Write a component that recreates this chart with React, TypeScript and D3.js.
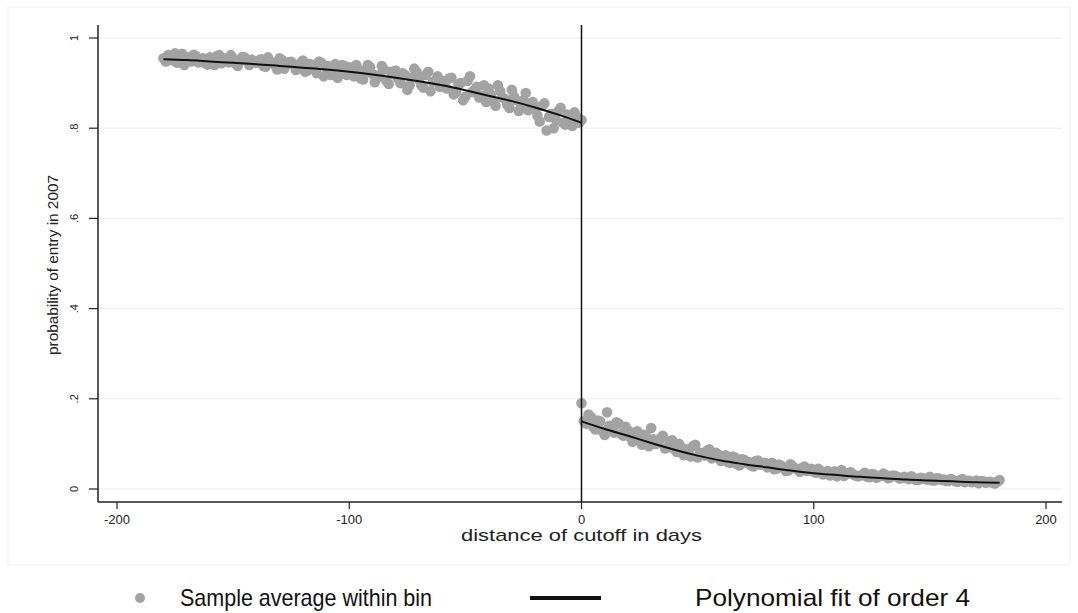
import React from 'react';
import * as d3 from 'd3';

const W = 1078;
const H = 613;

// daily bins: even days and odd days kept in separate lists
const leftDaysEven = d3.range(-180, 1, 2);
const leftValuesEven = [
  0.955, 0.962, 0.95, 0.945, 0.965, 0.958, 0.948, 0.96, 0.952, 0.944,
  0.957, 0.94, 0.962, 0.95, 0.946, 0.955, 0.938, 0.958, 0.949, 0.952,
  0.945, 0.953, 0.936, 0.948, 0.94, 0.955, 0.932, 0.946, 0.942, 0.938,
  0.95, 0.928, 0.94, 0.922, 0.945, 0.935, 0.918, 0.942, 0.93, 0.938,
  0.935, 0.915, 0.93, 0.908, 0.94, 0.92, 0.912, 0.938, 0.905, 0.925,
  0.928, 0.9, 0.918, 0.895, 0.932, 0.908, 0.89, 0.925, 0.903, 0.915,
  0.905, 0.888, 0.912, 0.88, 0.9, 0.87, 0.915, 0.885, 0.868, 0.895,
  0.888, 0.86, 0.895, 0.868, 0.852, 0.885, 0.862, 0.848, 0.878, 0.855,
  0.842, 0.815, 0.855, 0.825, 0.8, 0.838, 0.812, 0.83, 0.805, 0.825,
  0.818,
];
const leftDaysOdd = d3.range(-179, 0, 2);
const leftValuesOdd = [
  0.948, 0.958, 0.966, 0.952, 0.94, 0.956, 0.963, 0.946, 0.955, 0.941,
  0.952, 0.96, 0.944, 0.955, 0.962, 0.943, 0.95, 0.957, 0.94, 0.948,
  0.95, 0.938, 0.957, 0.944, 0.93, 0.951, 0.94, 0.947, 0.929, 0.944,
  0.925, 0.943, 0.933, 0.948, 0.915, 0.938, 0.926, 0.912, 0.94, 0.918,
  0.928, 0.94, 0.91, 0.925, 0.935, 0.902, 0.918, 0.93, 0.898, 0.92,
  0.91, 0.922, 0.885, 0.912, 0.925, 0.895, 0.918, 0.882, 0.905, 0.892,
  0.892, 0.91, 0.875, 0.898, 0.862, 0.905, 0.88, 0.892, 0.872, 0.858,
  0.875, 0.85, 0.882, 0.865, 0.845, 0.87, 0.838, 0.862, 0.84, 0.858,
  0.828, 0.85, 0.795, 0.832, 0.818, 0.845, 0.808, 0.822, 0.835, 0.812,
];
const rightDaysEven = d3.range(0, 181, 2);
const rightValuesEven = [
  0.19, 0.145, 0.16, 0.132, 0.15, 0.12, 0.14, 0.125, 0.145, 0.118,
  0.13, 0.105, 0.128, 0.098, 0.115, 0.135, 0.1, 0.112, 0.09, 0.105,
  0.088, 0.1, 0.075, 0.082, 0.095, 0.07, 0.078, 0.085, 0.068, 0.08,
  0.062, 0.075, 0.058, 0.07, 0.052, 0.065, 0.06, 0.05, 0.063, 0.055,
  0.048, 0.058, 0.045, 0.052, 0.04, 0.055, 0.046, 0.038, 0.05, 0.042,
  0.038, 0.045, 0.032, 0.04, 0.035, 0.028, 0.042, 0.033, 0.037, 0.03,
  0.03, 0.036, 0.026, 0.032, 0.028, 0.034, 0.024, 0.03, 0.027, 0.025,
  0.024, 0.028, 0.02, 0.025, 0.022, 0.027, 0.019, 0.023, 0.021, 0.018,
  0.02, 0.016, 0.022, 0.018, 0.015, 0.019, 0.017, 0.014, 0.016, 0.012,
  0.02,
];
const rightDaysOdd = d3.range(1, 180, 2);
const rightValuesOdd = [
  0.15, 0.165, 0.138, 0.152, 0.128, 0.17, 0.135, 0.148, 0.122, 0.138,
  0.115, 0.125, 0.108, 0.12, 0.095, 0.11, 0.102, 0.118, 0.092, 0.108,
  0.082, 0.092, 0.088, 0.072, 0.098, 0.08, 0.074, 0.088, 0.07, 0.076,
  0.068, 0.06, 0.072, 0.055, 0.066, 0.058, 0.052, 0.062, 0.054, 0.058,
  0.05, 0.044, 0.054, 0.047, 0.041, 0.05, 0.044, 0.047, 0.04, 0.045,
  0.036, 0.04, 0.034, 0.03, 0.039, 0.035, 0.029, 0.036, 0.032, 0.028,
  0.031, 0.027, 0.033, 0.025, 0.029, 0.031, 0.026, 0.029, 0.023, 0.027,
  0.022, 0.025, 0.02, 0.024, 0.021, 0.019, 0.024, 0.02, 0.018, 0.022,
  0.017, 0.02, 0.015, 0.018, 0.016, 0.013, 0.017, 0.015, 0.014, 0.016,
];

// polynomial fit (order 4), each side of the cutoff
const fitLeftDays = [-180, -170, -160, -150, -140, -130, -120, -110, -100, -90, -80, -70, -60, -50, -40, -30, -20, -10, 0];
const fitLeftValues = [0.953, 0.951, 0.948, 0.945, 0.942, 0.938, 0.934, 0.93, 0.925, 0.919, 0.912, 0.904, 0.895, 0.884, 0.872, 0.86, 0.846, 0.83, 0.812];
const fitRightDays = [0, 10, 20, 30, 40, 50, 60, 70, 80, 90, 100, 110, 120, 130, 140, 150, 160, 170, 180];
const fitRightValues = [0.15, 0.133, 0.118, 0.102, 0.087, 0.074, 0.063, 0.055, 0.048, 0.041, 0.035, 0.031, 0.027, 0.024, 0.021, 0.019, 0.017, 0.015, 0.014];

const xTicks = [-200, -100, 0, 100, 200];
const yTicks = [0, 0.2, 0.4, 0.6, 0.8, 1];
const yTickLabels = ['0', '.2', '.4', '.6', '.8', '1'];

const plot = { left: 98, right: 1062, top: 25, bottom: 502 };
const font = 'Arial, "Liberation Sans", sans-serif';
const dotColor = '#a3a3a3';

const zip = (days: number[], vals: number[]) => days.map((d, i) => [d, vals[i]] as [number, number]);

export default function App() {
  const x = d3.scaleLinear().domain([-200, 200]).range([117, 1046]);
  const y = d3.scaleLinear().domain([0, 1]).range([489, 38]);

  const line = d3.line<[number, number]>()
    .x(d => x(d[0]))
    .y(d => y(d[1]))
    .curve(d3.curveMonotoneX);

  const pts = [
    ...zip(leftDaysEven, leftValuesEven),
    ...zip(leftDaysOdd, leftValuesOdd),
    ...zip(rightDaysEven, rightValuesEven),
    ...zip(rightDaysOdd, rightValuesOdd),
  ];

  return (
    <svg width={W} height={H} style={{ position: 'absolute', left: 0, top: 0, background: '#fff' }}>
      <rect x={8} y={7} width={1062} height={558} fill="none" stroke="#f0f0f0" />

      {yTicks.map(t => (
        <line key={'g' + t} x1={plot.left} x2={plot.right} y1={y(t)} y2={y(t)} stroke="#ececec" strokeWidth={1} />
      ))}

      {pts.map((p, i) => (
        <circle key={i} cx={x(p[0])} cy={y(p[1])} r={5.3} fill={dotColor} />
      ))}

      <path d={line(zip(fitLeftDays, fitLeftValues)) || ''} fill="none" stroke="#111" strokeWidth={2} />
      <path d={line(zip(fitRightDays, fitRightValues)) || ''} fill="none" stroke="#111" strokeWidth={2} />

      <line x1={x(0)} x2={x(0)} y1={plot.top} y2={plot.bottom} stroke="#111" strokeWidth={1.5} />

      {/* axes */}
      <line x1={plot.left} x2={plot.left} y1={plot.top} y2={plot.bottom} stroke="#222" strokeWidth={1.5} />
      <line x1={plot.left} x2={plot.right} y1={plot.bottom} y2={plot.bottom} stroke="#222" strokeWidth={1.5} />

      {yTicks.map((t, i) => (
        <g key={'y' + t}>
          <line x1={plot.left - 9} x2={plot.left} y1={y(t)} y2={y(t)} stroke="#222" strokeWidth={1.2} />
          <text transform={`translate(${78},${y(t)}) rotate(-90)`} textAnchor="middle" fontFamily={font} fontSize={11} fill="#222">
            {yTickLabels[i]}
          </text>
        </g>
      ))}

      {xTicks.map(t => (
        <g key={'x' + t}>
          <line x1={x(t)} x2={x(t)} y1={plot.bottom} y2={plot.bottom + 7} stroke="#222" strokeWidth={1.2} />
          <text x={x(t)} y={plot.bottom + 22} textAnchor="middle" fontFamily={font} fontSize={13} fill="#222">
            {t}
          </text>
        </g>
      ))}

      <text x={x(0)} y={541} textAnchor="middle" fontFamily={font} fontSize={17} fill="#222"
        textLength={241} lengthAdjust="spacingAndGlyphs">
        distance of cutoff in days
      </text>
      <text transform={`translate(58,265) rotate(-90)`} textAnchor="middle" fontFamily={font} fontSize={14} fill="#222"
        textLength={180} lengthAdjust="spacingAndGlyphs">
        probability of entry in 2007
      </text>

      {/* legend */}
      <circle cx={140} cy={598} r={5} fill={dotColor} />
      <text x={180} y={606} fontFamily={font} fontSize={24} fill="#111" textLength={252} lengthAdjust="spacingAndGlyphs">
        Sample average within bin
      </text>
      <line x1={530} x2={601} y1={598} y2={598} stroke="#111" strokeWidth={4} />
      <text x={695} y={606} fontFamily={font} fontSize={24} fill="#111" textLength={275} lengthAdjust="spacingAndGlyphs">
        Polynomial fit of order 4
      </text>
    </svg>
  );
}
